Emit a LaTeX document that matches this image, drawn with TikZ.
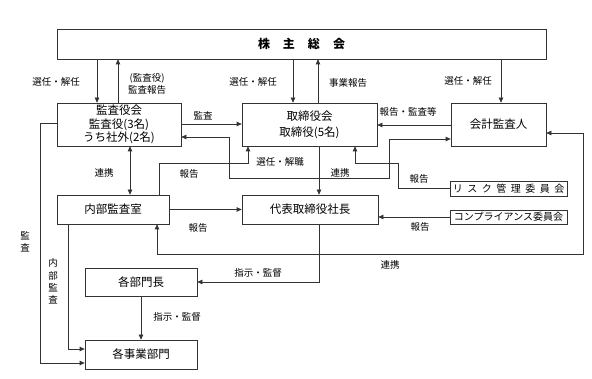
\documentclass[tikz,border=0pt]{standalone}
\usepackage{fontspec}
\setmainfont{Noto Sans CJK JP}
\usetikzlibrary{arrows.meta}
\begin{document}
\begin{tikzpicture}[x=1pt,y=-1pt,
  box/.style={draw=black!80, line width=0.7pt, inner sep=0pt, align=center, font=\fontsize{11.5}{13.5}\selectfont},
  smallbox/.style={box, font=\fontsize{10}{12}\selectfont},
  lbl/.style={inner sep=0pt, align=center, font=\fontsize{9.5}{12.3}\selectfont},
  ln/.style={draw=black!80, line width=0.7pt},
  arr/.style={ln, -{Triangle[length=5pt,width=4.5pt]}},
  darr/.style={ln, {Triangle[length=5pt,width=4.5pt]}-{Triangle[length=5pt,width=4.5pt]}}]
\useasboundingbox (0,0) rectangle (592,379);
\fill[white] (0,0) rectangle (592,379);

% boxes
\node[box, minimum width=489pt, minimum height=30pt] (sh) at (301.5,44)
  {\fontsize{12}{14}\selectfont\bfseries 株\hspace{13pt}主\hspace{13pt}総\hspace{13pt}会};
\node[box, minimum width=124pt, minimum height=43pt] (kansa) at (119,124.5)
  {監査役会\\監査役(3名)\\うち社外(2名)};
\node[box, minimum width=135pt, minimum height=43pt] (tori) at (309.5,124.5)
  {取締役会\\[2.5pt]取締役(5名)};
\node[box, minimum width=95pt, minimum height=43pt] (kaikei) at (498.5,124.5) {会計監査人};
\node[box, minimum width=112pt, minimum height=29pt] (naibu) at (113,209.5) {内部監査室};
\node[box, minimum width=136pt, minimum height=29pt] (daihyo) at (310,209.5) {代表取締役社長};
\node[smallbox, minimum width=117pt, minimum height=15pt] (risk) at (508.5,188.5)
  {リ\hspace{4.5pt}ス\hspace{4.5pt}ク\hspace{4.5pt}管\hspace{4.5pt}理\hspace{4.5pt}委\hspace{4.5pt}員\hspace{4.5pt}会};
\node[smallbox, minimum width=117pt, minimum height=14pt] (comp) at (508.5,217)
  {コンプライアンス委員会};
\node[box, minimum width=112pt, minimum height=28pt] (bumon) at (141,282) {各部門長};
\node[box, minimum width=112pt, minimum height=29pt] (jigyo) at (141,354.5) {各事業部門};

% shareholders meeting connections
\draw[arr] (97,0 |- sh.south) -- (97,0 |- kansa.north);
\draw[arr] (118,0 |- kansa.north) -- (118,0 |- sh.south);
\draw[arr] (293,0 |- sh.south) -- (293,0 |- tori.north);
\draw[arr] (318,0 |- tori.north) -- (318,0 |- sh.south);
\draw[arr] (501,0 |- sh.south) -- (501,0 |- kaikei.north);

% middle row
\draw[arr] (kansa.east |- 0,124) -- (tori.west |- 0,124);
\draw[arr] (kaikei.west |- 0,125) -- (tori.east |- 0,125);
\draw[darr] (kansa.east |- 0,137) -- (229,137) -- (229,178) -- (389,178) -- (389,139) -- (kaikei.west |- 0,139);
\draw[arr] (159,0 |- naibu.north) -- (159,163) -- (248,163) -- (248,0 |- tori.south);
\draw[arr] (319,0 |- tori.south) -- (319,0 |- daihyo.north);
\draw[arr] (risk.west) -- (398,0 |- risk.west) -- (398,163) -- (355,163) -- (355,0 |- tori.south);
\draw[arr] (comp.west) -- (daihyo.east |- comp.west);
\draw[arr] (naibu.east) -- (daihyo.west);
\draw[darr] (130,0 |- kansa.south) -- (130,0 |- naibu.north);
\draw[darr] (kaikei.east |- 0,133) -- (583,133) -- (583,254) -- (157,254) -- (157,0 |- naibu.south);

% lower part
\draw[arr] (319,0 |- daihyo.south) -- (319,0 |- bumon.east) -- (bumon.east);
\draw[arr] (bumon.south) -- (jigyo.north);
\draw[arr] (68,0 |- naibu.south) -- (68,349) -- (jigyo.west |- 0,349);
\draw[arr] (kansa.west |- 0,123) -- (40,123) -- (40,363) -- (jigyo.west |- 0,363);

% labels
\node[lbl] (l1) at (56,82) {選任・解任};
\node[lbl] (l2) at (147,84) {(監査役)\\監査報告};
\node[lbl] (l3) at (253,82) {選任・解任};
\node[lbl] (l4) at (348,83) {事業報告};
\node[lbl] (l5) at (468,81) {選任・解任};
\node[lbl] (l6) at (203,116) {監査};
\node[lbl] (l7) at (408,112) {報告・監査等};
\node[lbl] (l8) at (280,162) {選任・解職};
\node[lbl] (l9) at (189,174) {報告};
\node[lbl] (l10) at (340,173) {連携};
\node[lbl] (l11) at (419,179) {報告};
\node[lbl] (l12) at (104,173) {連携};
\node[lbl] (l13) at (198,228) {報告};
\node[lbl] (l14) at (420,227) {報告};
\node[lbl] (l15) at (390,265) {連携};
\node[lbl] (l16) at (258,273) {指示・監督};
\node[lbl] (l17) at (177,317) {指示・監督};
\node[lbl] (l18) at (25,241.5) {監\\査};
\node[lbl] (l19) at (53,281.5) {内\\部\\監\\査};
\end{tikzpicture}
\end{document}
